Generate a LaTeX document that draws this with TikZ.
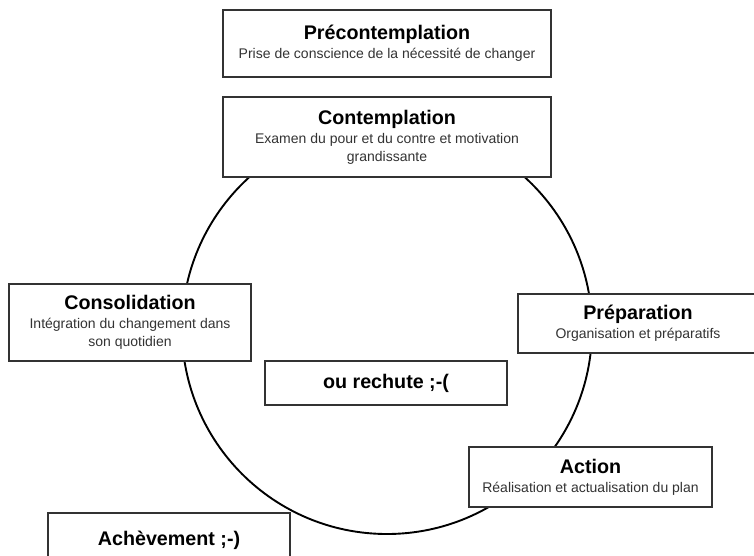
\documentclass[tikz,border=0pt]{standalone}
\usepackage{fontspec}
\setmainfont{Liberation Sans}
\definecolor{boxline}{HTML}{333333}
\definecolor{subtext}{HTML}{333333}
\newcommand{\stagetitle}[1]{{\color{black}\fontsize{19.7}{20}\selectfont\bfseries #1}}

\begin{document}
\begin{tikzpicture}[x=1pt,y=-1pt,
  stage/.style={draw=boxline,line width=1.2pt,fill=white,align=center,inner sep=0pt,
    font=\fontsize{14}{18}\selectfont,text=subtext}]
  \fill[white] (0,0) rectangle (754,555);
  \useasboundingbox (0,0) rectangle (754,555);
  \draw[line width=1.9pt] (387,329) circle[radius=205pt];
  \node[stage,minimum width=328pt,minimum height=67pt] (precontemplation) at (387,43.5)
    {\stagetitle{Précontemplation}\\[1pt]Prise de conscience de la nécessité de changer};
  \node[stage,minimum width=328pt,minimum height=80pt] (contemplation) at (387,137)
    {\stagetitle{Contemplation}\\[1pt]Examen du pour et du contre et motivation\\grandissante};
  \node[stage,minimum width=240pt,minimum height=59pt] (preparation) at (638,323.5)
    {\stagetitle{Préparation}\\[1pt]Organisation et préparatifs};
  \node[stage,minimum width=243pt,minimum height=60pt] (action) at (590.5,477)
    {\stagetitle{Action}\\[1pt]Réalisation et actualisation du plan};
  \node[stage,minimum width=242pt,minimum height=77pt] (consolidation) at (130,322.5)
    {\stagetitle{Consolidation}\\[1pt]Intégration du changement dans\\son quotidien};
  \node[stage,minimum width=242pt,minimum height=44pt] (rechute) at (386,383)
    {\stagetitle{ou rechute ;-(}};
  \node[stage,minimum width=242pt,minimum height=55pt] (achevement) at (169,540.5)
    {\stagetitle{Achèvement ;-)}};
\end{tikzpicture}
\end{document}
